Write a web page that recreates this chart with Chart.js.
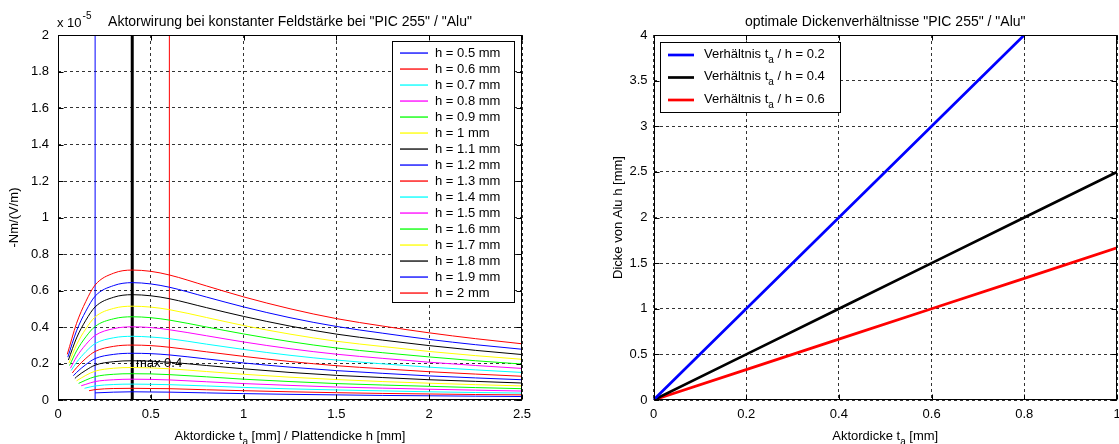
<!DOCTYPE html>
<html lang="de">
<head>
<meta charset="UTF-8">
<title>Aktorwirung / optimale Dickenverhältnisse</title>
<script src="https://cdn.jsdelivr.net/npm/chart.js"></script>
<style>
  body { margin: 0; background: #fff; }
  #wrap { position: relative; width: 1119px; height: 444px; }
  canvas { position: absolute; top: 0; }
</style>
</head>
<body>
<div id="wrap">
  <canvas id="leftChart" width="560" height="444" style="left:0"></canvas>
  <canvas id="rightChart" width="559" height="444" style="left:560px"></canvas>
</div>
<script>
// ---- linkes Diagramm: Aktorwirung (Werte in 1e-5 Nm/(V/m)) ----
const plateThickness = [0.5, 0.6, 0.7, 0.8, 0.9, 1, 1.1, 1.2, 1.3, 1.4, 1.5, 1.6, 1.7, 1.8, 1.9, 2];
// erster Punkt jeder Kurve (ta = 0.1 mm)
const startRatio = [0.2, 0.167, 0.143, 0.125, 0.111, 0.1, 0.091, 0.083, 0.077, 0.071, 0.067, 0.0625, 0.059, 0.056, 0.053, 0.05];
const startValue = [0.039, 0.051, 0.064, 0.078, 0.091, 0.105, 0.118, 0.133, 0.148, 0.162, 0.174, 0.189, 0.202, 0.219, 0.235, 0.25];
// restliche Punkte auf gemeinsamen x-Werten
const ratioGrid = [0.1, 0.15, 0.2, 0.3, 0.4, 0.5, 0.6, 0.8, 1.0, 1.25, 1.5, 1.75, 2.0, 2.25, 2.5];
const h05 = [null, null, null, 0.043, 0.045, 0.044, 0.043, 0.039, 0.035, 0.031, 0.028, 0.025, 0.023, 0.021, 0.019];
const h06 = [null, null, 0.057, 0.063, 0.064, 0.063, 0.062, 0.056, 0.051, 0.045, 0.040, 0.036, 0.033, 0.030, 0.028];
const h07 = [null, 0.066, 0.077, 0.085, 0.087, 0.086, 0.084, 0.077, 0.069, 0.061, 0.055, 0.050, 0.045, 0.041, 0.038];
const h08 = [null, 0.086, 0.101, 0.111, 0.114, 0.113, 0.110, 0.100, 0.090, 0.080, 0.071, 0.065, 0.059, 0.054, 0.049];
const h09 = [null, 0.109, 0.128, 0.141, 0.144, 0.143, 0.139, 0.127, 0.114, 0.101, 0.090, 0.082, 0.075, 0.068, 0.062];
const h10 = [null, 0.135, 0.158, 0.174, 0.178, 0.176, 0.171, 0.156, 0.141, 0.125, 0.112, 0.101, 0.092, 0.084, 0.077];
const h11 = [0.127, 0.163, 0.191, 0.210, 0.215, 0.213, 0.207, 0.189, 0.171, 0.151, 0.135, 0.123, 0.111, 0.102, 0.093];
const h12 = [0.151, 0.194, 0.227, 0.250, 0.256, 0.254, 0.247, 0.225, 0.203, 0.180, 0.161, 0.146, 0.132, 0.121, 0.111];
const h13 = [0.177, 0.228, 0.266, 0.294, 0.301, 0.298, 0.289, 0.264, 0.239, 0.211, 0.188, 0.171, 0.155, 0.142, 0.130];
const h14 = [0.206, 0.265, 0.309, 0.341, 0.349, 0.345, 0.336, 0.306, 0.277, 0.245, 0.219, 0.198, 0.180, 0.165, 0.151];
const h15 = [0.236, 0.304, 0.354, 0.391, 0.401, 0.397, 0.385, 0.352, 0.318, 0.281, 0.251, 0.228, 0.207, 0.189, 0.173];
const h16 = [0.269, 0.346, 0.403, 0.445, 0.456, 0.451, 0.438, 0.400, 0.362, 0.320, 0.285, 0.259, 0.236, 0.215, 0.197];
const h17 = [0.303, 0.390, 0.455, 0.502, 0.514, 0.509, 0.495, 0.452, 0.408, 0.361, 0.322, 0.293, 0.266, 0.243, 0.223];
const h18 = [0.340, 0.437, 0.510, 0.563, 0.577, 0.571, 0.555, 0.506, 0.458, 0.405, 0.361, 0.328, 0.298, 0.272, 0.249];
const h19 = [0.379, 0.487, 0.569, 0.627, 0.643, 0.636, 0.618, 0.564, 0.510, 0.451, 0.403, 0.366, 0.332, 0.303, 0.278];
const h20 = [0.420, 0.540, 0.630, 0.695, 0.712, 0.705, 0.685, 0.625, 0.565, 0.500, 0.446, 0.405, 0.368, 0.336, 0.308];
const curveValues = [h05, h06, h07, h08, h09, h10, h11, h12, h13, h14, h15, h16, h17, h18, h19, h20];
const markerRatios = [0.2, 0.4, 0.6];
const leftXTicks = [0, 0.5, 1, 1.5, 2, 2.5];
const leftYTicks = [0, 0.2, 0.4, 0.6, 0.8, 1, 1.2, 1.4, 1.6, 1.8, 2];

// ---- rechtes Diagramm: optimale Dickenverhältnisse ----
const actorThickness = [0, 0.2, 0.4, 0.6, 0.8, 1.0];
const ratios = [0.2, 0.4, 0.6];
const plateFor02 = [0, 1, 2, 3, 4, 5];
const plateFor04 = [0, 0.5, 1, 1.5, 2, 2.5];
const plateFor06 = [0, 0.333, 0.667, 1, 1.333, 1.667];
const rightXTicks = [0, 0.2, 0.4, 0.6, 0.8, 1];
const rightYTicks = [0, 0.5, 1, 1.5, 2, 2.5, 3, 3.5, 4];

// Stile
const FONT = "'Liberation Sans', Arial, Helvetica, sans-serif";
const colorCycle = ['#0000ff', '#ff0000', '#00ffff', '#ff00ff', '#00ff00', '#ffff00', '#000000'];
const markerColors = ['#0000ff', '#000000', '#ff0000'];
const markerWidths = [1, 3, 1];
const rightColors = ['#0000ff', '#000000', '#ff0000'];

// Text mit tiefgestelltem Teil, parts = [[text, isSub], ...]
function drawRich(ctx, parts, x, y, align) {
    let total = 0;
    const widths = parts.map(p => {
        ctx.font = (p[1] ? '10px ' : '13px ') + FONT;
        const w = ctx.measureText(p[0]).width;
        total += w;
        return w;
    });
    let cx = align === 'left' ? x : x - total / 2;
    ctx.textAlign = 'left';
    ctx.textBaseline = 'alphabetic';
    parts.forEach((p, i) => {
        ctx.font = (p[1] ? '10px ' : '13px ') + FONT;
        ctx.fillText(p[0], cx, p[1] ? y + 5 : y);
        cx += widths[i];
    });
}

// Rahmen mit nach innen zeigenden Ticks (wie MATLAB)
function drawFrame(chart, xTicks, yTicks) {
    const { ctx, chartArea: a, scales } = chart;
    ctx.save();
    ctx.setLineDash([]);
    ctx.strokeStyle = '#000';
    ctx.lineWidth = 1;
    const l = Math.round(a.left) + 0.5, r = Math.round(a.right) - 0.5;
    const t = Math.round(a.top) + 0.5, b = Math.round(a.bottom) - 0.5;
    ctx.strokeRect(l, t, r - l, b - t);
    ctx.beginPath();
    xTicks.forEach(v => {
        const px = Math.round(scales.x.getPixelForValue(v)) + 0.5;
        ctx.moveTo(px, b); ctx.lineTo(px, b - 5);
        ctx.moveTo(px, t); ctx.lineTo(px, t + 5);
    });
    yTicks.forEach(v => {
        const py = Math.round(scales.y.getPixelForValue(v)) + 0.5;
        ctx.moveTo(l, py); ctx.lineTo(l + 5, py);
        ctx.moveTo(r, py); ctx.lineTo(r - 5, py);
    });
    ctx.stroke();
    ctx.restore();
}

// Tickbeschriftung wie MATLAB: 0, 0.2, ... 2
const tickText = v => String(Math.round(v * 1000) / 1000);

function baseOptions(xMin, xMax, xStep, yMin, yMax, yStep, yWidth, yPad, padRight) {
    const tickFont = { family: FONT, size: 13 };
    return {
        responsive: false,
        animation: false,
        layout: { padding: { top: 35, right: padRight, left: 0, bottom: 0 } },
        plugins: { legend: { display: false }, tooltip: { enabled: false } },
        elements: { point: { radius: 0 } },
        scales: {
            x: {
                type: 'linear', min: xMin, max: xMax,
                ticks: { stepSize: xStep, color: '#000', font: tickFont, padding: 7, maxRotation: 0, autoSkip: false, callback: tickText },
                grid: { color: 'rgba(0,0,0,0.8)', drawTicks: false, lineWidth: 1 },
                border: { display: false, dash: [3, 3] },
                afterFit(s) { s.height = 44; s.paddingLeft = 0; s.paddingRight = 0; }
            },
            y: {
                type: 'linear', min: yMin, max: yMax,
                ticks: { stepSize: yStep, color: '#000', font: tickFont, padding: yPad, autoSkip: false, callback: tickText },
                grid: { color: 'rgba(0,0,0,0.8)', drawTicks: false, lineWidth: 1 },
                border: { display: false, dash: [3, 3] },
                afterFit(s) { s.width = yWidth; s.paddingTop = 0; s.paddingBottom = 0; }
            }
        }
    };
}

// ---- linkes Diagramm aufbauen ----
const leftDatasets = plateThickness.map((h, i) => {
    const pts = [{ x: startRatio[i], y: startValue[i] }];
    ratioGrid.forEach((r, j) => {
        const v = curveValues[i][j];
        if (v !== null) pts.push({ x: r, y: v });
    });
    return {
        label: 'h = ' + h + ' mm',
        data: pts,
        borderColor: colorCycle[i % colorCycle.length],
        borderWidth: 1,
        cubicInterpolationMode: 'monotone'
    };
});
markerRatios.forEach((r, i) => {
    leftDatasets.push({
        label: 'marker',
        data: [{ x: r, y: leftYTicks[0] }, { x: r, y: leftYTicks[leftYTicks.length - 1] }],
        borderColor: markerColors[i],
        borderWidth: markerWidths[i]
    });
});

const leftDecor = {
    id: 'leftDecor',
    afterDraw(chart) {
        const { ctx, chartArea: a, scales } = chart;
        drawFrame(chart, leftXTicks, leftYTicks);
        ctx.save();
        ctx.fillStyle = '#000';
        // Titel
        ctx.font = '14px ' + FONT;
        ctx.textAlign = 'center';
        ctx.textBaseline = 'alphabetic';
        ctx.fillText('Aktorwirung bei konstanter Feldstärke bei "PIC 255" / "Alu"', (a.left + a.right) / 2, 26);
        // Exponent
        ctx.font = '13px ' + FONT;
        ctx.textAlign = 'left';
        ctx.fillText('x 10', 57, 27);
        const w = ctx.measureText('x 10').width;
        ctx.font = '10px ' + FONT;
        ctx.fillText('-5', 57 + w + 1, 19);
        // y-Achsentitel
        ctx.save();
        ctx.translate(14, (a.top + a.bottom) / 2);
        ctx.rotate(-Math.PI / 2);
        ctx.font = '13px ' + FONT;
        ctx.textAlign = 'center';
        ctx.textBaseline = 'middle';
        ctx.fillText('-Nm/(V/m)', 0, 0);
        ctx.restore();
        // x-Achsentitel
        drawRich(ctx, [['Aktordicke t', false], ['a', true], [' [mm] / Plattendicke h [mm]', false]], (a.left + a.right) / 2, 440);
        // Beschriftung Maximum
        ctx.font = '13px ' + FONT;
        ctx.textAlign = 'left';
        ctx.textBaseline = 'middle';
        ctx.fillText('max 0.4', scales.x.getPixelForValue(0.42), scales.y.getPixelForValue(0.2));
        // Legende
        const bx = 392.5, by = 41.5, bw = 122, bh = 261;
        ctx.fillStyle = '#fff';
        ctx.fillRect(bx, by, bw, bh);
        ctx.strokeStyle = '#000';
        ctx.lineWidth = 1;
        ctx.strokeRect(bx, by, bw, bh);
        ctx.font = '13px ' + FONT;
        ctx.textBaseline = 'middle';
        plateThickness.forEach((h, i) => {
            const yy = Math.round(by + 11 + i * 16.04);
            ctx.fillStyle = colorCycle[i % colorCycle.length];
            ctx.fillRect(400, yy - 0.6, 28, 1.3);
            ctx.fillStyle = '#000';
            ctx.fillText('h = ' + h + ' mm', 435, yy);
        });
        ctx.restore();
    }
};

new Chart(document.getElementById('leftChart'), {
    type: 'line',
    data: { datasets: leftDatasets },
    options: baseOptions(0, 2.5, 0.5, 0, 2, 0.2, 58, 9, 38),
    plugins: [leftDecor]
});

// ---- rechtes Diagramm aufbauen ----
const plateSeries = [plateFor02, plateFor04, plateFor06];
const rightDatasets = ratios.map((q, i) => ({
    label: String(q),
    data: actorThickness.map((t, j) => ({ x: t, y: plateSeries[i][j] })),
    borderColor: rightColors[i],
    borderWidth: 2.7
}));

const rightDecor = {
    id: 'rightDecor',
    afterDraw(chart) {
        const { ctx, chartArea: a } = chart;
        drawFrame(chart, rightXTicks, rightYTicks);
        ctx.save();
        ctx.fillStyle = '#000';
        ctx.font = '14px ' + FONT;
        ctx.textAlign = 'center';
        ctx.textBaseline = 'alphabetic';
        ctx.fillText('optimale Dickenverhältnisse "PIC 255" / "Alu"', (a.left + a.right) / 2, 26);
        // y-Achsentitel
        ctx.save();
        ctx.translate(58, (a.top + a.bottom) / 2);
        ctx.rotate(-Math.PI / 2);
        ctx.font = '13px ' + FONT;
        ctx.textAlign = 'center';
        ctx.textBaseline = 'middle';
        ctx.fillText('Dicke von Alu h [mm]', 0, 0);
        ctx.restore();
        drawRich(ctx, [['Aktordicke t', false], ['a', true], [' [mm]', false]], (a.left + a.right) / 2, 440);
        // Legende
        const bx = 100.5, by = 42.5, bw = 180, bh = 70;
        ctx.fillStyle = '#fff';
        ctx.fillRect(bx, by, bw, bh);
        ctx.strokeStyle = '#000';
        ctx.lineWidth = 1;
        ctx.strokeRect(bx, by, bw, bh);
        ratios.forEach((q, i) => {
            const yy = 55 + i * 22.5;
            ctx.strokeStyle = rightColors[i];
            ctx.lineWidth = 2.7;
            ctx.beginPath();
            ctx.moveTo(108, yy); ctx.lineTo(134, yy);
            ctx.stroke();
            ctx.fillStyle = '#000';
            drawRich(ctx, [['Verhältnis t', false], ['a', true], [' / h = ' + q, false]], 144, yy + 2.5, 'left');
        });
        ctx.restore();
    }
};

new Chart(document.getElementById('rightChart'), {
    type: 'line',
    data: { datasets: rightDatasets },
    options: baseOptions(0, 1, 0.2, 0, 4, 0.5, 93.5, 6, 2),
    plugins: [rightDecor]
});
</script>
</body>
</html>
